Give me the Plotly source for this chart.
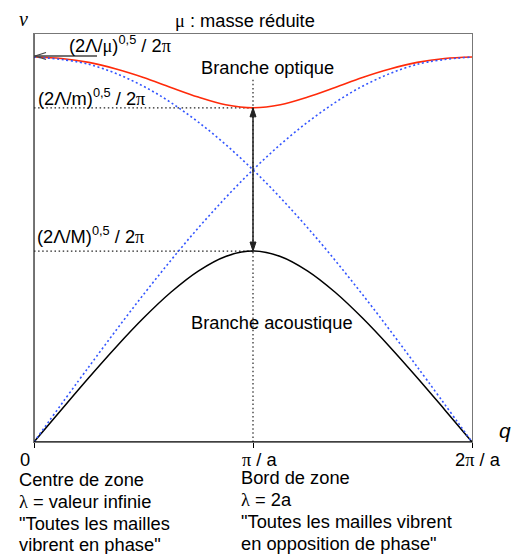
import plotly.graph_objects as go

# Wave vector q in units of pi/a (first Brillouin zone drawn from 0 to 2pi/a)
q = [0, 0.125, 0.25, 0.375, 0.5, 0.625, 0.75, 0.875, 1.0,
     1.125, 1.25, 1.375, 1.5, 1.625, 1.75, 1.875, 2.0]

# Optical branch (normalised frequency, 1 = (2Λ/μ)^0.5 / 2π)
nu_opt = [1.000, 0.996, 0.986, 0.969, 0.947, 0.921, 0.896, 0.876, 0.868,
          0.876, 0.896, 0.921, 0.947, 0.969, 0.986, 0.996, 1.000]

# Acoustic branch
nu_ac = [0.000, 0.084, 0.167, 0.247, 0.322, 0.389, 0.444, 0.482, 0.496,
         0.482, 0.444, 0.389, 0.322, 0.247, 0.167, 0.084, 0.000]

# Folded monatomic-chain curves (blue dotted)
q_b = [0, 0.25, 0.5, 0.75, 1.0, 1.25, 1.5, 1.75, 2.0]
nu_b_rise = [0.000, 0.195, 0.383, 0.556, 0.707, 0.831, 0.924, 0.981, 1.000]
nu_b_fall = [1.000, 0.981, 0.924, 0.831, 0.707, 0.556, 0.383, 0.195, 0.000]

SERIF = "Liberation Serif, Times New Roman, serif"
SANS = "Liberation Sans, Arial, Helvetica, sans-serif"


def sym(s):
    return f"<span style='font-family:{SERIF}'>{s}</span>"


tick_vals = [0, 1, 2]
tick_text = ["0", sym("π") + " / a", "2" + sym("π") + " / a"]

# Figure geometry
W, H = 517, 554
ML, MR, MT, MB = 34, 45, 34, 112
PW, PH = W - ML - MR, H - MT - MB
Y_TOP = PH / 385.0          # data value at the top frame line


def px(xp):
    return (xp - ML) / PW


def py(yp):
    return (H - MB - yp) / PH


FS = 18.3
INK = "#222222"

fig = go.Figure()

fig.add_trace(go.Scatter(x=q, y=nu_ac, mode="lines",
                         line=dict(color="black", width=1.5, shape="spline"),
                         hoverinfo="skip"))
fig.add_trace(go.Scatter(x=q, y=nu_opt, mode="lines",
                         line=dict(color="#ff2a0a", width=1.6, shape="spline"),
                         hoverinfo="skip"))
for ys in (nu_b_rise, nu_b_fall):
    fig.add_trace(go.Scatter(x=q_b, y=ys, mode="lines",
                             line=dict(color="#3355ff", width=1.6, shape="spline",
                                       dash="2px,2.6px"),
                             hoverinfo="skip"))

shapes = []
dotted = dict(color=INK, width=1.2, dash="1.5px,2.6px")

# zone-edge guide and the two frequency guides
shapes.append(dict(type="line", xref="x", yref="y", x0=1, x1=1, y0=0, y1=0.945,
                   line=dotted, layer="below"))
shapes.append(dict(type="line", xref="x", yref="y", x0=0, x1=1,
                   y0=nu_opt[8], y1=nu_opt[8], line=dotted, layer="below"))
shapes.append(dict(type="line", xref="x", yref="y", x0=0, x1=1,
                   y0=nu_ac[8], y1=nu_ac[8], line=dotted, layer="below"))

# gap arrow between the two branches at q = pi/a
shapes.append(dict(type="line", xref="x", yref="y", x0=1, x1=1,
                   y0=nu_ac[8], y1=nu_opt[8], line=dict(color=INK, width=1.5)))
for yv, d in ((nu_opt[8], -1), (nu_ac[8], 1)):
    shapes.append(dict(type="path", xref="x", yref="y",
                       xsizemode="pixel", ysizemode="pixel", xanchor=1, yanchor=yv,
                       path=f"M -3,{9*d} L 0,0 L 3,{9*d} Z",
                       fillcolor=INK, line=dict(color=INK, width=1)))

# axes with arrow heads
axis_kw = dict(xref="x", yref="y", xsizemode="pixel", ysizemode="pixel",
               xanchor=0, yanchor=0)
shapes.append(dict(type="line", x0=0, x1=0, y0=0, y1=420,
                   line=dict(color="#333333", width=1.4), **axis_kw))
shapes.append(dict(type="path", path="M -3,416 L 0,428 L 3,416 Z",
                   fillcolor="black", line=dict(color="black", width=1), **axis_kw))
shapes.append(dict(type="line", x0=0, x1=456, y0=0, y1=0,
                   line=dict(color="black", width=1.4), **axis_kw))
shapes.append(dict(type="path", path="M 451,3.5 L 463,0 L 451,-3.5 Z",
                   fillcolor="black", line=dict(color="black", width=1), **axis_kw))

# arrow pointing at (2Λ/μ)^0.5 / 2π on the frequency axis
mu_kw = dict(xref="x", yref="y", xsizemode="pixel", ysizemode="pixel",
             xanchor=0, yanchor=nu_opt[0])
shapes.append(dict(type="line", x0=0, x1=63, y0=1, y1=1,
                   line=dict(color="#444444", width=1.4), **mu_kw))
shapes.append(dict(type="path", path="M 12,4.5 L 1,1 L 12,-2.5",
                   line=dict(color="#444444", width=1.3), **mu_kw))

ann = []


def text(s, x, y, xanchor="center", size=FS, family=SANS, **kw):
    ann.append(dict(text=s, x=x, y=y, xref="paper", yref="paper",
                    xanchor=xanchor, yanchor="middle", showarrow=False, borderpad=0,
                    font=dict(size=size, family=family, color="black"), **kw))


text("<i>ν</i>", px(23), py(19), size=20, family=SERIF)
text(sym("μ") + " : masse réduite", px(245), py(21))
text("(2Λ/" + sym("μ") + ")<sup>0,5</sup> / 2" + sym("π"), px(68), py(44), xanchor="left")
text("(2Λ/m)<sup>0,5</sup> / 2" + sym("π"), px(37), py(97), xanchor="left")
text("(2Λ/M)<sup>0,5</sup> / 2" + sym("π"), px(36), py(235), xanchor="left")
text("Branche optique", px(267), py(67))
text("Branche acoustique", px(271.5), py(323))
text("<i>q</i>", px(505), py(430), size=21)

for tv, tt, dx in zip(tick_vals, tick_text, (-9.5, 6.5, 6)):
    ann.append(dict(text=tt, x=tv, y=0, xref="x", yref="y", xanchor="center",
                    yanchor="middle", xshift=dx, yshift=-17, showarrow=False,
                    borderpad=0, font=dict(size=FS, family=SANS, color="black")))

left_lines = ["Centre de zone", sym("λ") + " = valeur infinie",
              "\"Toutes les mailles", "vibrent en phase\""]
right_lines = ["Bord de zone", sym("λ") + " = 2a",
               "\"Toutes les mailles vibrent", "en opposition de phase\""]
for i, s in enumerate(left_lines):
    text(s, px(18), py(479.5 + 21.8 * i), xanchor="left")
for i, s in enumerate(right_lines):
    text(s, px(240), py(478 + 21.8 * i), xanchor="left")

fig.update_layout(
    width=W, height=H,
    margin=dict(l=ML, r=MR, t=MT, b=MB, pad=0),
    paper_bgcolor="white", plot_bgcolor="white",
    showlegend=False,
    shapes=shapes, annotations=ann,
    xaxis=dict(range=[0, 2], showgrid=False, zeroline=False,
               showline=True, linecolor="#777777", linewidth=1.2, mirror=True,
               ticks="outside", tickvals=tick_vals, ticklen=5,
               tickcolor="black", tickwidth=1.2, showticklabels=False, fixedrange=True),
    yaxis=dict(range=[0, Y_TOP], showgrid=False, zeroline=False,
               showline=True, linecolor="#777777", linewidth=1.2, mirror=True,
               ticks="", showticklabels=False, fixedrange=True),
)

fig.write_html("out.html")
